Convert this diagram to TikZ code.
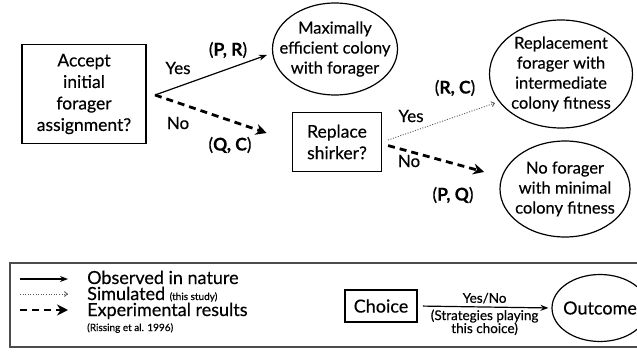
\documentclass[tikz,border=0pt]{standalone}
\usepackage{fontspec}
\setmainfont{Lato}[FakeBold=0.35]
\usetikzlibrary{shapes.geometric,arrows.meta}
\tikzset{
  choice/.style={draw,line width=1.6pt,align=center,inner sep=0pt,font=\fontsize{17.5}{21.5}\selectfont},
  outcome/.style={draw,ellipse,line width=1.2pt,align=center,inner sep=-30pt,font=\fontsize{16.5}{20}\selectfont},
  observed/.style={-{Stealth[length=8pt,width=6pt]},line width=1.2pt},
  simulated/.style={-{Straight Barb[length=3pt,width=5pt]},line width=0.9pt,draw=black!65,dash pattern=on 1pt off 1.6pt},
  experimental/.style={-{Stealth[length=11pt,width=11pt]},line width=2.8pt,dash pattern=on 7pt off 5pt},
  lbl/.style={font=\fontsize{17}{18}\selectfont},
  pay/.style={font=\fontsize{17.5}{18}\selectfont},
  small/.style={font=\fontsize{13.5}{13}\selectfont,align=center},
  legend/.style={anchor=base west,inner sep=0pt,font=\fontsize{18}{18}\selectfont}
}
\begin{document}
\begin{tikzpicture}[x=1pt,y=-1pt]
  \useasboundingbox (0,0) rectangle (637,356);
  \draw
    (84,94) node[choice,minimum width=124pt,minimum height=99pt] (accept) {Accept\\initial\\forager\\assignment?}
    (337,142) node[choice,minimum width=89pt,minimum height=59pt] (replace) {Replace\\shirker?}
    (335,49) node[outcome,minimum width=125pt,minimum height=92pt] (maxeff) {Maximally\\efficient colony\\with forager}
    (561,74) node[outcome,minimum width=143pt,minimum height=108pt] (replacement) {Replacement\\forager with\\intermediate\\colony fitness}
    (565,189) node[outcome,minimum width=130pt,minimum height=96pt] (noforager) {No forager\\with minimal\\colony fitness}
    (178,68) node[lbl] (yes1) {Yes}
    (228,50) node[pay] (pr) {(\textbf{P, R})}
    (178,123) node[lbl] (no1) {No}
    (230,145) node[pay] (qc) {(\textbf{Q, C})}
    (455,88) node[pay] (rc) {(\textbf{R, C})}
    (411,116) node[lbl] (yes2) {Yes}
    (409,161) node[lbl] (no2) {No}
    (453,195) node[pay] (pq) {(\textbf{P, Q})};
  \coordinate (fork) at (155,95);
  \begin{scope}[-]
    \draw[observed] (fork) to ([xshift=-5pt,yshift=-6pt]maxeff.west);
    \draw[experimental] (fork) to ([xshift=-25pt,yshift=9pt]replace.west);
    \draw[simulated,shorten <=6pt,shorten >=4pt] (replace.east) to (replacement.204);
    \draw[experimental,shorten <=6pt,shorten >=18pt] ([yshift=-2pt]replace.east) to (noforager.169);
  \end{scope}
  \draw[line width=1.5pt,draw=black!70] (10,263) rectangle (645,347);
  \draw
    (87,284) node[legend] (obstext) {Observed in nature}
    (87,300) node[legend] (simtext) {Simulated {\fontsize{10}{10}\selectfont(this study)}}
    (87,316) node[legend] (exptext) {Experimental results}
    (87,331) node[legend,font=\fontsize{10}{10}\selectfont] (exprefs) {(Rissing et al. 1996)}
    (381,306) node[choice,font=\fontsize{18}{20}\selectfont,minimum width=72pt,minimum height=32pt] (choicebox) {Choice}
    (600,308) node[outcome,font=\fontsize{18}{20}\selectfont,minimum width=96pt,minimum height=67pt] (outcomebox) {Outcome};
  \coordinate (obs0) at (20,279);
  \coordinate (sim0) at (20,294);
  \coordinate (exp0) at (20,310);
  \begin{scope}[-]
    \draw[observed] (obs0) to ([xshift=-19pt,yshift=5pt]obstext.base west);
    \draw[simulated] (sim0) to ([xshift=-19pt,yshift=6pt]simtext.base west);
    \draw[experimental] (exp0) to ([xshift=-19pt,yshift=6pt]exptext.base west);
    \draw[observed,shorten <=5pt,shorten >=3pt] (choicebox.east) to
      node[pos=0.5,above,small,inner sep=3pt] (yesno) {Yes/No}
      node[pos=0.5,below,small,inner sep=2pt] (strategies) {(Strategies playing\\this choice)}
      (outcomebox.west);
  \end{scope}
\end{tikzpicture}
\end{document}
